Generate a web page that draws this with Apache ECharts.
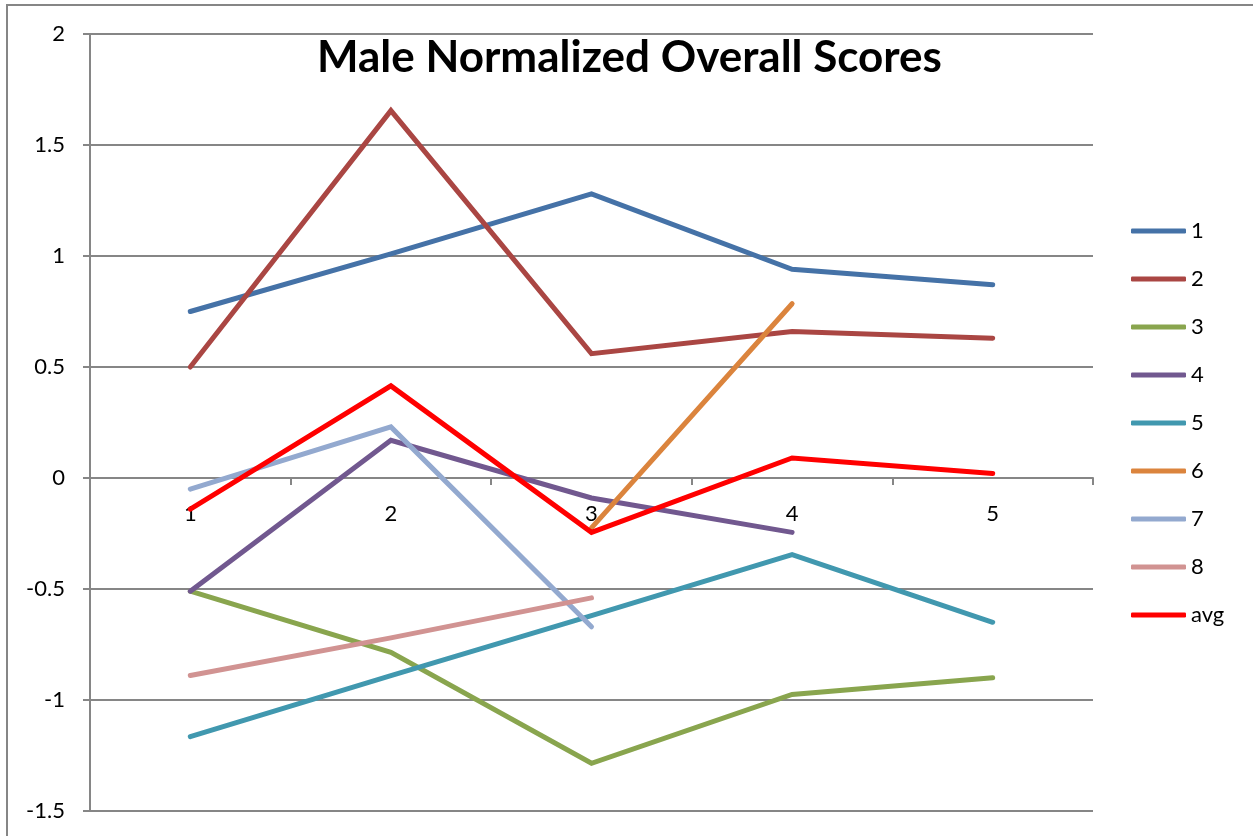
<!DOCTYPE html>
<html>
<head>
<meta charset="utf-8">
<script src="https://cdn.jsdelivr.net/npm/echarts@6/dist/echarts.min.js"></script>
<style>
  html, body { margin: 0; padding: 0; background: #fff; }
  #chart { width: 1253px; height: 836px; }
</style>
</head>
<body>
<div id="chart"></div>
<script>
const categories = ['1', '2', '3', '4', '5'];
const seriesNames = ['1', '2', '3', '4', '5', '6', '7', '8', 'avg'];
const s1 = [0.75, 1.01, 1.28, 0.94, 0.87];
const s2 = [0.50, 1.655, 0.56, 0.66, 0.63];
const s3 = [-0.51, -0.785, -1.285, -0.975, -0.90];
const s4 = [-0.51, 0.17, -0.09, -0.245, null];
const s5 = [-1.165, -0.89, -0.62, -0.345, -0.65];
const s6 = [null, null, -0.225, 0.785, null];
const s7 = [-0.05, 0.23, -0.67, null, null];
const s8 = [-0.89, -0.72, -0.54, null, null];
const avg = [-0.14, 0.415, -0.245, 0.09, 0.02];
const yTicks = { min: -1.5, max: 2, interval: 0.5 };

const colors = ['#4572A7', '#AA4643', '#89A54E', '#71588F', '#4198AF', '#DB843D', '#93A9CF', '#D19392', '#FF0000'];
const allData = [s1, s2, s3, s4, s5, s6, s7, s8, avg];

const font = 'Lato, "Open Sans", sans-serif';
const gray = '#868686';

const W = 1253, H = 836;
const gridTop = 34, gridBottom = 25;
// x axis sits on the zero line: shift it up from the grid bottom
const plotH = H - gridTop - gridBottom;
const zeroOffset = -plotH * (0 - yTicks.min) / (yTicks.max - yTicks.min);

let chart = echarts.init(document.getElementById('chart'), null, {renderer: 'canvas'});

let option = {
  animation: false,
  color: colors,
  textStyle: { fontFamily: font },
  title: {
    text: 'Male Normalized Overall Scores',
    left: 312,
    top: 31,
    textStyle: { fontSize: 44, fontWeight: 'bold', color: '#000', fontFamily: font }
  },
  graphic: [{
    type: 'rect',
    shape: { x: 7, y: 5, width: 1400, height: 1000 },
    style: { fill: 'none', stroke: gray, lineWidth: 2 },
    silent: true
  }],
  legend: {
    orient: 'vertical',
    left: 1126,
    top: 215,
    icon: 'roundRect',
    itemWidth: 55,
    itemHeight: 5,
    itemGap: 26,
    textStyle: { fontSize: 22, color: '#000', fontFamily: font },
    data: seriesNames
  },
  grid: { left: 90, right: 160, top: gridTop, bottom: gridBottom, outerBoundsMode: 'none' },
  xAxis: {
    type: 'category',
    data: categories,
    offset: zeroOffset,
    axisLine: { onZero: false, lineStyle: { color: gray, width: 2 } },
    axisTick: { show: true, length: 7, lineStyle: { color: gray, width: 2 } },
    axisLabel: { fontSize: 22, color: '#000', margin: 25, fontFamily: font },
    splitLine: { show: false }
  },
  yAxis: {
    type: 'value',
    min: yTicks.min,
    max: yTicks.max,
    interval: yTicks.interval,
    axisLine: { show: true, lineStyle: { color: gray, width: 2 } },
    axisTick: { show: true, length: 7, lineStyle: { color: gray, width: 2 } },
    axisLabel: { fontSize: 22, color: '#000', margin: 25, fontFamily: font },
    splitLine: { show: true, lineStyle: { color: gray, width: 2 } }
  },
  series: seriesNames.map((name, i) => ({
    name: name,
    type: 'line',
    data: allData[i],
    symbol: 'none',
    connectNulls: false,
    lineStyle: { width: 5, color: colors[i], cap: 'round', join: 'miter' },
    itemStyle: { color: colors[i] },
    z: 2 + i
  }))
};

option && chart.setOption(option);
</script>
</body>
</html>
